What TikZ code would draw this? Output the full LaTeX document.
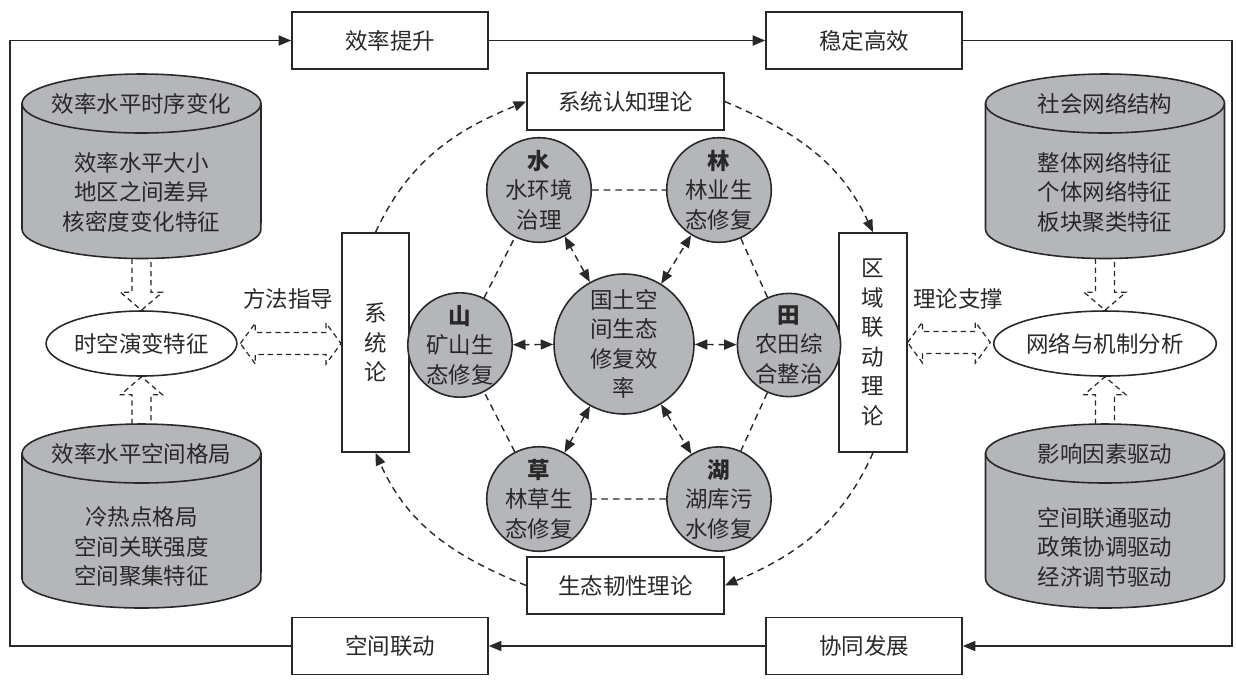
\documentclass[tikz,border=0pt]{standalone}
\usepackage{fontspec}
\setmainfont{Noto Sans CJK SC}
\usetikzlibrary{arrows.meta, positioning, calc, shapes.geometric}
\definecolor{ink}{RGB}{40,40,40}
\definecolor{disk}{RGB}{181,182,186}

% drum (cylinder): name, centre x, top y, bottom y (pixels from top)
\newcommand{\drum}[4]{%
  \draw[drumline] ({#2-119.5},{-#3-29.5}) -- ({#2-119.5},{-#4+29.5})
    arc[start angle=180,end angle=360,x radius=2.39cm,y radius=0.59cm]
    -- ({#2+119.5},{-#3-29.5})
    arc[start angle=0,end angle=180,x radius=2.39cm,y radius=0.59cm] -- cycle;
  \draw[drumline, fill=none] ({#2-119.5},{-#3-29.5})
    arc[start angle=180,end angle=360,x radius=2.39cm,y radius=0.59cm];
  \coordinate (#1Top) at (#2,-#3);
  \coordinate (#1Bot) at (#2,-#4);}

% hollow dashed arrow, straight up or down
\newcommand{\hollowarrow}[2]{%
  \draw[hollow] let \p1=(#1), \p2=(#2), \p3=($(\p2)!0.36cm!(\p1)$) in
    (\x2-0.19cm,\y1) -- (\x2-0.19cm,\y3) -- (\x2-0.42cm,\y3) -- (\p2)
    -- (\x2+0.42cm,\y3) -- (\x2+0.19cm,\y3) -- (\x2+0.19cm,\y1);}

% hollow dashed double arrow, left to right
\newcommand{\hollowdouble}[2]{%
  \draw[hollow] let \p1=(#1), \p2=(#2) in
    (\p1) -- (\x1+0.3cm,\y1+0.41cm) -- (\x1+0.3cm,\y1+0.22cm)
    -- (\x2-0.3cm,\y1+0.22cm) -- (\x2-0.3cm,\y1+0.41cm) -- (\x2,\y1)
    -- (\x2-0.3cm,\y1-0.41cm) -- (\x2-0.3cm,\y1-0.22cm)
    -- (\x1+0.3cm,\y1-0.22cm) -- (\x1+0.3cm,\y1-0.41cm) -- cycle;}

\begin{document}
\begin{tikzpicture}[x=0.02cm, y=0.02cm,
    >={Triangle[length=2.5mm,width=2mm]},
    every node/.style={font=\fontsize{12.8pt}{16.8pt}\selectfont, text=ink},
    frame/.style={rectangle, draw=ink, line width=0.9pt, minimum width=3.92cm,
      minimum height=1.14cm, inner sep=0},
    tall/.style={rectangle, draw=ink, line width=0.9pt, minimum width=1.35cm,
      minimum height=4.38cm, align=center, inner sep=0},
    disc/.style={circle, draw=ink, fill=disk, line width=0.9pt, minimum size=2.06cm,
      inner sep=0, align=center},
    oval/.style={ellipse, draw=ink, line width=0.9pt, minimum width=3.68cm,
      minimum height=1.3cm, inner sep=0},
    flow/.style={->, draw=ink, line width=0.9pt},
    link/.style={ink, line width=0.8pt, dash pattern=on 3.8pt off 2.8pt},
    pair/.style={link, <->},
    hollow/.style={ink, line width=0.7pt, dash pattern=on 3pt off 2.2pt},
    drumline/.style={draw=ink, fill=disk, line width=0.9pt}
  ]
  \useasboundingbox (0,0) rectangle (1236,-681);

  % outer loop boxes
  \node[frame] (effUp) at (390,-40.5) {效率提升};
  \node[frame] (stable) at (864,-40.5) {稳定高效};
  \node[frame] (spaceLink) at (390,-646) {空间联动};
  \node[frame] (synergy) at (864,-646) {协同发展};
  \coordinate (loopNW) at (10,-40.5);
  \coordinate (loopNE) at (1232,-40.5);
  \draw[flow] (spaceLink.west) -| (loopNW) -- (effUp.west);
  \draw[flow] (effUp.east) -- (stable.west);
  \draw[flow] (stable.east) -- (loopNE) |- (synergy.east);
  \draw[flow] (synergy.west) -- (spaceLink.east);

  % theory boxes
  \node[frame, minimum width=3.94cm] (cogTh) at (625.5,-101.5) {系统认知理论};
  \node[frame, minimum width=3.94cm] (resTh) at (625.5,-585.5) {生态韧性理论};
  \node[tall] (sysTh) at (375.5,-342.5) {系\\统\\论};
  \node[tall] (regTh) at (873,-342.5) {区\\域\\联\\动\\理\\论};
  \draw[link, ->] (sysTh.north) to[out=65, in=202] (cogTh.west);
  \draw[link, ->] (cogTh.east) to[out=-23, in=115] (regTh.north);
  \draw[link, ->] (regTh.south) to[out=-114, in=23] (resTh.east);
  \draw[link, ->] (resTh.west) to[out=158, in=-66] (sysTh.south);

  % restoration circles
  \node[disc, minimum size=2.8cm] (core) at (624,-344) {国土空\\间生态\\修复效\\率};
  \node[disc] (water) at (539,-190) {{\bfseries 水}\\水环境\\治理};
  \node[disc] (forest) at (719,-190) {{\bfseries 林}\\林业生\\态修复};
  \node[disc] (mount) at (460,-345) {{\bfseries 山}\\矿山生\\态修复};
  \node[disc] (field) at (789,-345) {{\bfseries 田}\\农田综\\合整治};
  \node[disc] (grass) at (539,-499) {{\bfseries 草}\\林草生\\态修复};
  \node[disc] (lake) at (719,-499) {{\bfseries 湖}\\湖库污\\水修复};
  \draw[link] (water) -- (forest) -- (field) -- (lake) -- (grass) -- (mount) -- (water);
  \foreach \d in {water,forest,mount,field,grass,lake}
    \draw[pair] (core) -- (\d);

  % left: evolution analysis
  \drum{timeCyl}{141.5}{74}{258.5}
  \drum{spaceCyl}{141.5}{424}{608}
  \node (timeHd) at (141.5,-103.5) {效率水平时序变化};
  \node[align=center] (timeBd) at (141.5,-192) {效率水平大小\\地区之间差异\\核密度变化特征};
  \node (spaceHd) at (141.5,-453.5) {效率水平空间格局};
  \node[align=center] (spaceBd) at (141.5,-547) {冷热点格局\\空间关联强度\\空间聚集特征};
  \node[oval] (stEvo) at (141.5,-343.5) {时空演变特征};
  \hollowarrow{timeCylBot}{stEvo.north}
  \hollowarrow{spaceCylTop}{stEvo.south}
  \hollowdouble{[xshift=1.5pt]stEvo.east}{sysTh.west}
  \node (methLbl) at (288,-299) {方法指导};

  % right: network and mechanism
  \drum{socCyl}{1105}{74}{258.5}
  \drum{driveCyl}{1105}{424}{608}
  \node (socHd) at (1105,-103.5) {社会网络结构};
  \node[align=center] (socBd) at (1105,-192) {整体网络特征\\个体网络特征\\板块聚类特征};
  \node (driveHd) at (1105,-453.5) {影响因素驱动};
  \node[align=center] (driveBd) at (1105,-547) {空间联通驱动\\政策协调驱动\\经济调节驱动};
  \node[oval, minimum width=3.72cm] (netMech) at (1105,-343.5) {网络与机制分析};
  \hollowarrow{socCylBot}{netMech.north}
  \hollowarrow{driveCylTop}{netMech.south}
  \hollowdouble{regTh.east}{[xshift=-1.5pt]netMech.west}
  \node (theoLbl) at (958,-299) {理论支撑};
\end{tikzpicture}
\end{document}
